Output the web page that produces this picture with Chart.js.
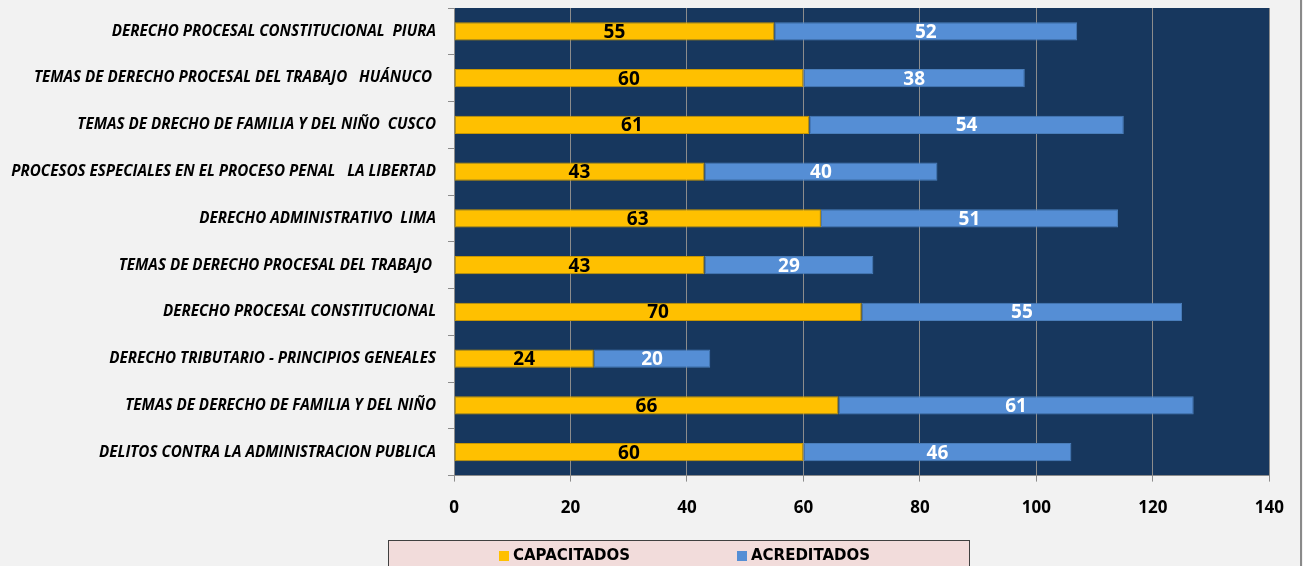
<!DOCTYPE html>
<html><head><meta charset="utf-8">
<script src="https://cdn.jsdelivr.net/npm/chart.js@4"></script>
<style>
html,body{margin:0;padding:0;background:#f2f2f2;overflow:hidden}
#wrap{position:relative;width:1300px;height:566px;border-right:2px solid #8a8a8a}
</style></head><body>
<div id="wrap"><canvas id="c"></canvas></div>
<script>
const categories = [
  'DERECHO PROCESAL CONSTITUCIONAL  PIURA',
  'TEMAS DE DERECHO PROCESAL DEL TRABAJO   HUÁNUCO ',
  'TEMAS DE DRECHO DE FAMILIA Y DEL NIÑO  CUSCO',
  'PROCESOS ESPECIALES EN EL PROCESO PENAL   LA LIBERTAD',
  'DERECHO ADMINISTRATIVO  LIMA',
  'TEMAS DE DERECHO PROCESAL DEL TRABAJO ',
  'DERECHO PROCESAL CONSTITUCIONAL',
  'DERECHO TRIBUTARIO - PRINCIPIOS GENEALES',
  'TEMAS DE DERECHO DE FAMILIA Y DEL NIÑO',
  'DELITOS CONTRA LA ADMINISTRACION PUBLICA'
];
const capacitados = [55, 60, 61, 43, 63, 43, 70, 24, 66, 60];
const acreditados = [52, 38, 54, 40, 51, 29, 55, 20, 61, 46];
const seriesNames = ['CAPACITADOS', 'ACREDITADOS'];
const xMin = 0, xMax = 140, xStep = 20;

const FONT = "'Open Sans', sans-serif";
const NAVY = '#17375e';
const YELLOW = '#ffc000';
const BLUE = '#558ed5';
const GRID = '#8c8c8c';

const bgPlugin = {
  id: 'bg',
  beforeDraw(chart) {
    const {ctx, chartArea: a} = chart;
    ctx.save();
    ctx.fillStyle = NAVY;
    ctx.fillRect(a.left, a.top, a.right - a.left, a.bottom - a.top);
    ctx.restore();
  }
};

const valueLabels = {
  id: 'valueLabels',
  afterDatasetsDraw(chart) {
    const ctx = chart.ctx;
    ctx.save();
    ctx.font = "bold 19px " + FONT;
    ctx.textAlign = 'center';
    ctx.textBaseline = 'middle';
    chart.data.datasets.forEach((ds, di) => {
      const meta = chart.getDatasetMeta(di);
      ctx.fillStyle = di === 0 ? '#000000' : '#ffffff';
      meta.data.forEach((el, i) => {
        const cx = (el.x + el.base) / 2;
        ctx.fillText(String(ds.data[i]), cx, el.y + 1);
      });
    });
    ctx.restore();
  }
};

const legendBox = {
  id: 'legendBox',
  afterDraw(chart) {
    const ctx = chart.ctx;
    ctx.save();
    ctx.fillStyle = '#f2dcdb';
    ctx.fillRect(388.5, 540.5, 581, 40);
    ctx.strokeStyle = '#404040';
    ctx.lineWidth = 1;
    ctx.strokeRect(388.5, 540.5, 581, 40);
    ctx.font = "bold 15px 'DejaVu Sans', sans-serif";
    ctx.textBaseline = 'middle';
    ctx.textAlign = 'left';
    chart.data.datasets.forEach((ds, i) => {
      const x0 = 499 + i * 238;
      ctx.fillStyle = ds.backgroundColor;
      ctx.fillRect(x0, 551, 10, 10);
      ctx.fillStyle = '#000000';
      ctx.fillText(ds.label, x0 + 14, 556.5);
    });
    ctx.restore();
  }
};

new Chart(document.getElementById('c'), {
  type: 'bar',
  data: {
    labels: categories,
    datasets: [
      {label: seriesNames[0], data: capacitados, backgroundColor: YELLOW, borderColor: '#c89600', borderWidth: 1, borderSkipped: false},
      {label: seriesNames[1], data: acreditados, backgroundColor: BLUE, borderColor: '#4a7ebb', borderWidth: 1, borderSkipped: false}
    ]
  },
  options: {
    indexAxis: 'y',
    responsive: true,
    maintainAspectRatio: false,
    animation: false,
    categoryPercentage: 1,
    barPercentage: 0.39,
    layout: {padding: {top: 8, right: 29, bottom: 32, left: 0}},
    plugins: {legend: {display: false}, tooltip: {enabled: false}},
    scales: {
      x: {
        stacked: true,
        min: xMin, max: xMax,
        ticks: {stepSize: xStep, color: '#000', font: {family: FONT, size: 17, weight: 'bold'}, padding: 16},
        grid: {color: GRID, tickLength: 6, drawOnChartArea: true},
        border: {color: GRID}
      },
      y: {
        stacked: true,
        afterFit(scale) { scale.width = 454; scale.paddingTop = 0; scale.paddingBottom = 0; },
        ticks: {color: '#000', font: {family: FONT, size: 15.2, weight: 'bold', style: 'italic'}, padding: 12, autoSkip: false},
        grid: {color: GRID, tickLength: 6, drawOnChartArea: false, offset: true},
        border: {color: GRID}
      }
    }
  },
  plugins: [bgPlugin, valueLabels, legendBox]
});
</script>
</body></html>
